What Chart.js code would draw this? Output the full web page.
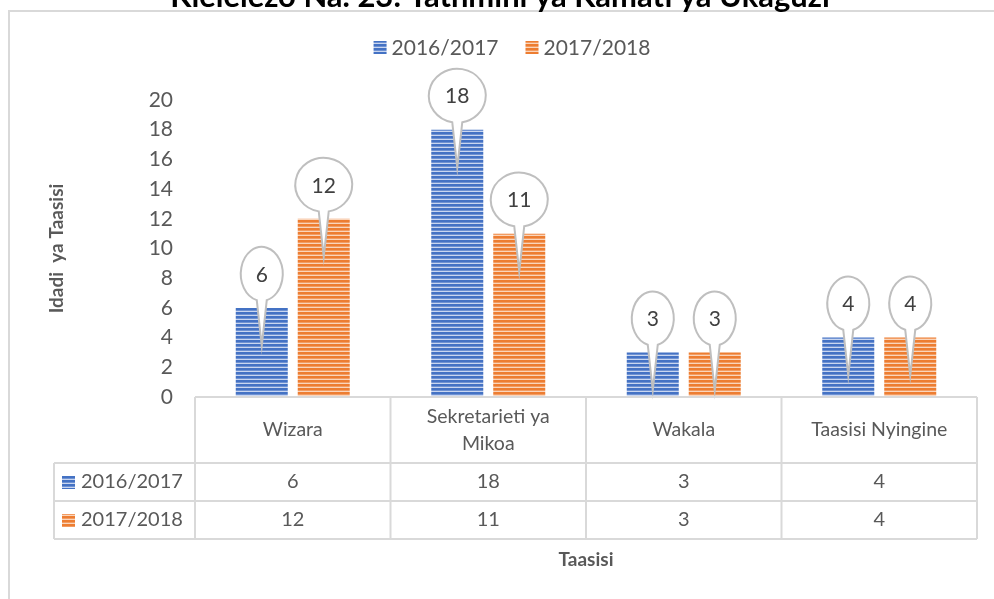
<!DOCTYPE html>
<html><head><meta charset="utf-8">
<script src="https://cdn.jsdelivr.net/npm/chart.js@4.4.0/dist/chart.umd.min.js"></script>
<style>html,body{margin:0;padding:0;background:#fff;overflow:hidden}</style>
</head><body>
<canvas id="c" width="994" height="599" style="display:block;width:994px;height:599px"></canvas>
<script>
const titleText = "Kielelezo Na. 23: Tathmini ya Kamati ya Ukaguzi";
const categories = ["Wizara", ["Sekretarieti ya", "Mikoa"], "Wakala", "Taasisi Nyingine"];
const seriesNames = ["2016/2017", "2017/2018"];
const values2016 = [6, 18, 3, 4];
const values2017 = [12, 11, 3, 4];
const yTicks = [0, 2, 4, 6, 8, 10, 12, 14, 16, 18, 20];
const yAxisTitle = "Idadi  ya Taasisi";
const xAxisTitle = "Taasisi";

const FONT = "Lato, 'Open Sans', sans-serif";
const TXT = "#595959";
const LINE = "#d9d9d9";

const ctx0 = document.getElementById('c').getContext('2d');
function stripes(cols) {
  const c = document.createElement('canvas');
  c.width = 8; c.height = cols.length;
  const g = c.getContext('2d');
  cols.forEach((col, i) => { g.fillStyle = col; g.fillRect(0, i, 8, 1); });
  return ctx0.createPattern(c, 'repeat');
}
const bluePat = stripes(["#4472C4", "#4472C4", "#6f92d2", "#c9d6f0"]);
const orangePat = stripes(["#ED7D31", "#ED7D31", "#f29c62", "#fad5bb"]);
const seriesFill = [bluePat, orangePat];

const framePlugin = {
  id: 'frame',
  beforeDraw(chart) {
    const c = chart.ctx;
    c.save();
    c.fillStyle = '#fff';
    c.fillRect(0, 0, chart.width, chart.height);
    c.strokeStyle = LINE; c.lineWidth = 2;
    c.beginPath(); c.moveTo(9, 600); c.lineTo(9, 11); c.lineTo(1000, 11); c.stroke();
    c.fillStyle = '#000';
    c.textAlign = 'center'; c.textBaseline = 'alphabetic';
    let size = 22;
    c.font = `bold ${size}px ${FONT}`;
    const w = c.measureText(titleText).width;
    size = size * 660 / w;
    c.font = `bold ${size}px ${FONT}`;
    c.fillText(titleText, 500, 7);
    c.font = `21px ${FONT}`;
    c.textBaseline = 'middle'; c.textAlign = 'left';
    const ds = chart.data.datasets;
    const widths = ds.map(d => 13 + 5 + c.measureText(d.label).width);
    const total = widths.reduce((a, b) => a + b, 0) + 27 * (ds.length - 1);
    let x = 512 - total / 2;
    ds.forEach((d, i) => {
      c.fillStyle = d.backgroundColor;
      c.fillRect(x, 41, 13, 13);
      c.fillStyle = TXT;
      c.fillText(d.label, x + 18, 48);
      x += widths[i] + 27;
    });
    c.restore();
  }
};

function bubblePath(c, cx, cy, rx, ry, tipX, tipY, half) {
  const t1 = Math.acos(half / rx);
  const t2 = Math.PI - t1;
  c.beginPath();
  c.moveTo(tipX, tipY);
  c.lineTo(cx + rx * Math.cos(t2), cy + ry * Math.sin(t2));
  c.ellipse(cx, cy, rx, ry, 0, t2, t1 + 2 * Math.PI);
  c.closePath();
}

const calloutPlugin = {
  id: 'callouts',
  afterDatasetsDraw(chart) {
    const c = chart.ctx;
    c.save();
    chart.data.datasets.forEach((d, di) => {
      chart.getDatasetMeta(di).data.forEach((bar, i) => {
        const txt = String(d.data[i]);
        const rx = txt.length > 1 ? 28.5 : 21;
        const ry = 27;
        const cx = bar.x, cy = bar.y - 34;
        bubblePath(c, cx, cy, rx, ry, bar.x, bar.y + 38, 5);
        c.fillStyle = '#fff';
        c.fill();
        c.strokeStyle = '#bfbfbf'; c.lineWidth = 2;
        c.stroke();
        c.fillStyle = '#404040';
        c.font = `21px ${FONT}`;
        c.textAlign = 'center'; c.textBaseline = 'middle';
        c.fillText(txt, cx, cy + 1);
      });
    });
    c.restore();
  }
};

const tablePlugin = {
  id: 'datatable',
  afterDraw(chart) {
    const c = chart.ctx;
    const xs = chart.scales.x;
    const a = chart.chartArea;
    const top = a.bottom, r1 = top + 66, r2 = r1 + 38, r3 = r2 + 38;
    const leftCol = 54;
    const n = chart.data.labels.length;
    const cw = (a.right - a.left) / n;
    c.save();
    c.strokeStyle = LINE; c.lineWidth = 2;
    c.beginPath();
    c.moveTo(a.left, top); c.lineTo(a.right, top);
    [r1, r2, r3].forEach(y => { c.moveTo(leftCol, y); c.lineTo(a.right, y); });
    c.moveTo(leftCol, r1); c.lineTo(leftCol, r3);
    for (let i = 0; i <= n; i++) {
      const x = a.left + cw * i;
      c.moveTo(x, top); c.lineTo(x, r3);
    }
    c.stroke();
    c.fillStyle = TXT;
    c.textAlign = 'center'; c.textBaseline = 'middle';
    c.font = `19.5px ${FONT}`;
    chart.data.labels.forEach((lab, i) => {
      const x = xs.getPixelForValue(i);
      const lines = Array.isArray(lab) ? lab : [lab];
      const lh = 27;
      const y0 = (top + r1) / 2 - (lines.length - 1) * lh / 2;
      lines.forEach((l, j) => c.fillText(l, x, y0 + j * lh));
    });
    c.font = `20px ${FONT}`;
    const rows = [[r1, r2], [r2, r3]];
    chart.data.datasets.forEach((d, di) => {
      const yc = (rows[di][0] + rows[di][1]) / 2;
      c.textAlign = 'center';
      c.fillStyle = TXT;
      d.data.forEach((v, i) => c.fillText(String(v), xs.getPixelForValue(i), yc));
      c.fillStyle = d.backgroundColor;
      c.fillRect(62, yc - 6, 13, 13);
      c.fillStyle = TXT;
      c.textAlign = 'left';
      c.fillText(d.label, 81, yc);
    });
    c.restore();
  }
};

new Chart(document.getElementById('c'), {
  type: 'bar',
  data: {
    labels: categories,
    datasets: [
      { label: seriesNames[0], data: values2016, backgroundColor: seriesFill[0], borderWidth: 0 },
      { label: seriesNames[1], data: values2017, backgroundColor: seriesFill[1], borderWidth: 0 }
    ]
  },
  options: {
    responsive: false,
    animation: false,
    devicePixelRatio: 1,
    categoryPercentage: 0.634,
    barPercentage: 0.839,
    layout: { padding: { top: 100, right: 17, left: 0, bottom: 0 } },
    plugins: { legend: { display: false }, tooltip: { enabled: false }, title: { display: false } },
    scales: {
      x: {
        grid: { display: false },
        border: { display: false },
        ticks: { display: false },
        title: { display: true, text: xAxisTitle, color: TXT, font: { family: FONT, size: 19, weight: 'bold' }, padding: { top: 0, bottom: 28 } },
        afterFit(s) { s.height = 202; }
      },
      y: {
        min: 0, max: 20,
        grid: { display: false, drawTicks: false },
        border: { display: false },
        ticks: { color: TXT, font: { family: FONT, size: 21 }, padding: 22 },
        afterBuildTicks(s) { s.ticks = yTicks.map(v => ({ value: v })); },
        title: { display: true, text: yAxisTitle, color: TXT, font: { family: FONT, size: 19, weight: 'bold' }, padding: { top: 45, bottom: 0 } },
        afterFit(s) { s.width = 195; }
      }
    }
  },
  plugins: [framePlugin, calloutPlugin, tablePlugin]
});
</script>
</body></html>
